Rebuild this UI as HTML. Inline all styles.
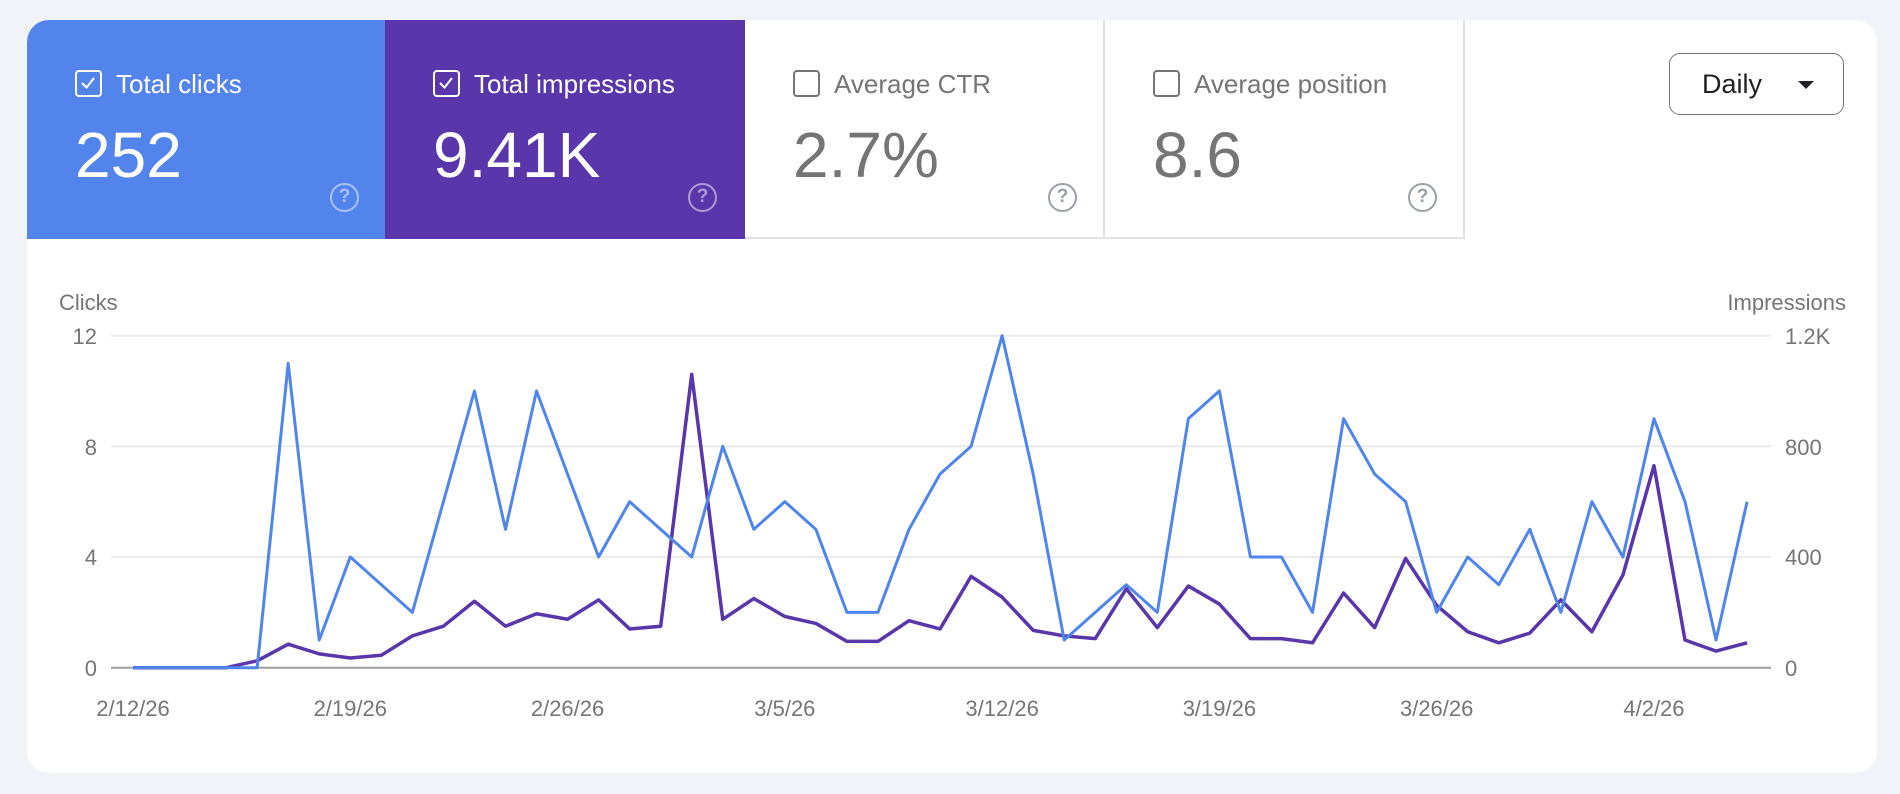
<!DOCTYPE html>
<html><head><meta charset="utf-8"><style>
*{margin:0;padding:0;box-sizing:border-box}
body{width:1900px;height:794px;background:#f0f3f8;font-family:"Liberation Sans",sans-serif;position:relative;overflow:hidden}
.card{position:absolute;left:27px;top:20px;width:1850px;height:753px;background:#fff;border-radius:22px;overflow:hidden}
.tile{position:absolute;top:0;height:219px;width:360px}
.cb{position:absolute;left:48px;top:50px;width:27px;height:27px;border:2.5px solid #fff;border-radius:4px}
.lbl{position:absolute;left:89px;top:49px;font-size:26px;white-space:nowrap}
.num{position:absolute;left:48px;top:98px;font-size:64px;white-space:nowrap}
.help{position:absolute;left:303px;top:163px;width:29px;height:29px;border:2.5px solid;border-radius:50%;font-size:19px;text-align:center;line-height:24px;font-weight:bold}
.w .cb{border-color:#757575}
.w .lbl,.w .num{color:#757575}
.w .help{color:#9aa0a6;border-color:#9aa0a6}
.c .lbl,.c .num{color:#fff}
.c .help{color:rgba(255,255,255,.5);border-color:rgba(255,255,255,.5)}
</style></head><body>
<div class="card">
 <div class="tile c" style="left:0;background:#5384ec"><div class="cb"><svg width="22" height="22" style="position:absolute;left:0;top:0"><path d="M5 11 L9.5 15.5 L17 6" stroke="#fff" stroke-width="2" fill="none"/></svg></div><div class="lbl">Total clicks</div><div class="num">252</div><div class="help">?</div></div>
 <div class="tile c" style="left:358px;background:#5936aa"><div class="cb"><svg width="22" height="22" style="position:absolute;left:0;top:0"><path d="M5 11 L9.5 15.5 L17 6" stroke="#fff" stroke-width="2" fill="none"/></svg></div><div class="lbl">Total impressions</div><div class="num">9.41K</div><div class="help">?</div></div>
 <div class="tile w" style="left:718px;border-bottom:2px solid #e0e0e0;border-right:2px solid #e0e0e0"><div class="cb"></div><div class="lbl">Average CTR</div><div class="num">2.7%</div><div class="help">?</div></div>
 <div class="tile w" style="left:1078px;border-bottom:2px solid #e0e0e0;border-right:2px solid #e0e0e0"><div class="cb"></div><div class="lbl">Average position</div><div class="num">8.6</div><div class="help">?</div></div>
 <div style="position:absolute;left:1642px;top:33px;width:175px;height:62px;border:1.5px solid #757575;border-radius:11px;font-size:27px;color:#202124">
  <span style="position:absolute;left:32px;top:15px">Daily</span>
  <span style="position:absolute;left:128px;top:27px;width:0;height:0;border-left:8px solid transparent;border-right:8px solid transparent;border-top:8px solid #202124"></span>
 </div>
</div>
<svg id="ch" width="1900" height="794" style="position:absolute;left:0;top:0" font-family="Liberation Sans, sans-serif" font-size="22" fill="#757575">
 <text x="59" y="310">Clicks</text>
 <text x="1846" y="310" text-anchor="end">Impressions</text>
 <g stroke="#ebebeb" stroke-width="2"><line x1="111" x2="1771" y1="335.7" y2="335.7"/><line x1="111" x2="1771" y1="446.3" y2="446.3"/><line x1="111" x2="1771" y1="557" y2="557"/></g>
 <line x1="111" x2="1771" y1="667.7" y2="667.7" stroke="#9e9e9e" stroke-width="2"/>
 <g text-anchor="end"><text x="97" y="344">12</text><text x="97" y="455">8</text><text x="97" y="565">4</text><text x="97" y="676">0</text></g>
 <g><text x="1785" y="344">1.2K</text><text x="1785" y="455">800</text><text x="1785" y="565">400</text><text x="1785" y="676">0</text></g>
 <g id="xl" text-anchor="middle"></g>
 <polyline id="pi" fill="none" stroke="#5936aa" stroke-width="3.5" stroke-linejoin="round"/>
 <polyline id="pc" fill="none" stroke="#5086ec" stroke-width="3" stroke-linejoin="round"/>
</svg>
<script>
var c=[0,0,0,0,0,11,1,4,3,2,6,10,5,10,7,4,6,5,4,8,5,6,5,2,2,5,7,8,12,7,1,2,3,2,9,10,4,4,2,9,7,6,2,4,3,5,2,6,4,9,6,1,6];
var im=[0,0,0,0,0.25,0.85,0.5,0.35,0.45,1.15,1.5,2.4,1.5,1.95,1.75,2.45,1.4,1.5,10.6,1.75,2.5,1.85,1.6,0.95,0.95,1.7,1.4,3.3,2.55,1.35,1.15,1.05,2.85,1.45,2.95,2.3,1.05,1.05,0.9,2.7,1.45,3.95,2.25,1.3,0.9,1.25,2.45,1.3,3.35,7.3,1.0,0.6,0.9];
function X(i){return 133+31.04*i}function Y(v){return 667.7-27.67*v}
document.getElementById('pc').setAttribute('points',c.map(function(v,i){return X(i)+','+Y(v)}).join(' '));
document.getElementById('pi').setAttribute('points',im.map(function(v,i){return X(i)+','+Y(v)}).join(' '));
var L=['2/12/26','2/19/26','2/26/26','3/5/26','3/12/26','3/19/26','3/26/26','4/2/26'],g=document.getElementById('xl');
L.forEach(function(t,k){var e=document.createElementNS('http://www.w3.org/2000/svg','text');e.setAttribute('x',X(k*7));e.setAttribute('y',716);e.textContent=t;g.appendChild(e);});
</script>
</body></html>
